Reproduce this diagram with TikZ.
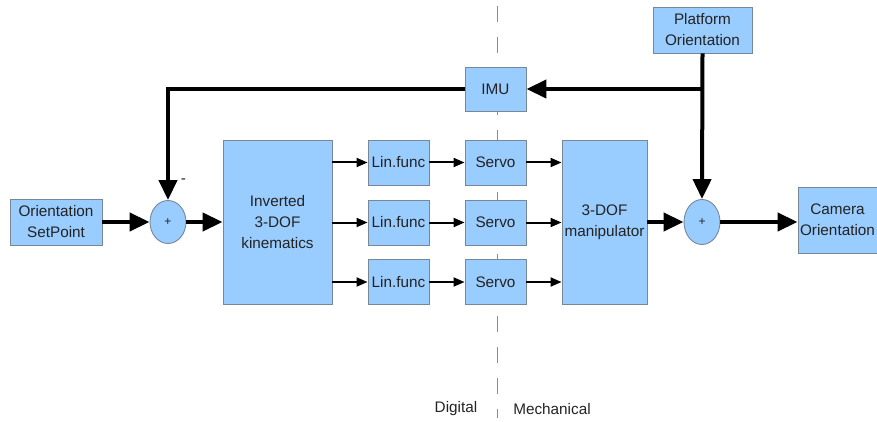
\documentclass[tikz,border=0pt]{standalone}
\usepackage{fontspec}
\setmainfont{Liberation Sans}
\usetikzlibrary{arrows.meta,shapes.geometric}
\definecolor{blockfill}{RGB}{153,204,255}
\definecolor{blockline}{RGB}{120,135,150}
\definecolor{splitline}{RGB}{140,140,140}
\definecolor{ink}{RGB}{35,35,35}
\tikzset{
  block/.style={draw=blockline, fill=blockfill, line width=0.9pt, inner sep=0pt,
    align=center, text=ink, font={\fontsize{15.3}{21}\selectfont}},
  summer/.style={ellipse, draw=blockline, fill=blockfill, line width=0.9pt,
    inner sep=0pt, text=ink, font={\fontsize{12}{14}\selectfont}},
  bigflow/.style={line width=4pt, -{Triangle[length=20pt,width=18pt]}},
  smallflow/.style={line width=2pt, -{Triangle[length=11pt,width=9pt]}},
  lbl/.style={font={\fontsize{15.3}{21}\selectfont}, text=ink, inner sep=0pt},
}
\begin{document}
\begin{tikzpicture}[x=1pt,y=-1pt]
\useasboundingbox (0,0) rectangle (877,422);

% boundary between the digital and the mechanical part
\draw[splitline, line width=1pt, dash pattern=on 16pt off 15pt] (497,6) -- (497,418);

% blocks
\node[block, minimum width=92pt, minimum height=46pt] (sp) at (56,222) {Orientation\\SetPoint};
\node[summer, minimum width=36pt, minimum height=43pt] (s1) at (168,222) {+};
\node[block, minimum width=109pt, minimum height=164pt] (kin) at (277.5,222) {Inverted\\3-DOF\\kinematics};
\node[block, minimum width=61pt, minimum height=45pt] (lf1) at (398.5,162.5) {Lin.func};
\node[block, minimum width=61pt, minimum height=45pt] (lf2) at (398.5,222.5) {Lin.func};
\node[block, minimum width=61pt, minimum height=45pt] (lf3) at (398.5,282) {Lin.func};
\node[block, minimum width=61pt, minimum height=45pt] (sv1) at (495.5,162.5) {Servo};
\node[block, minimum width=61pt, minimum height=45pt] (sv2) at (495.5,222.5) {Servo};
\node[block, minimum width=61pt, minimum height=45pt] (sv3) at (495.5,282) {Servo};
\node[block, minimum width=85pt, minimum height=164pt] (man) at (604.5,222) {3-DOF\\manipulator};
\node[block, minimum width=61pt, minimum height=44pt] (imu) at (495.5,89) {IMU};
\node[block, minimum width=99pt, minimum height=46pt] (plat) at (702.5,30) {Platform\\Orientation};
\node[summer, minimum width=36pt, minimum height=45pt] (s2) at (702,222) {+};
\node[block, minimum width=79pt, minimum height=66pt] (cam) at (837.5,220) {Camera\\Orientation};

% labels
\node[lbl] (minus) at (183.5,181) {-};
\node[lbl] (dig) at (456,409) {Digital};
\node[lbl] (mech) at (552,409) {Mechanical};

% main signal path
\draw[bigflow] (sp.east) -- (s1.west);
\draw[bigflow] (s1.east) -- (s1.east -| kin.west);
\draw[smallflow] (lf1.west -| kin.east) -- (lf1.west);
\draw[smallflow] (lf2.west -| kin.east) -- (lf2.west);
\draw[smallflow] (lf3.west -| kin.east) -- (lf3.west);
\draw[smallflow] (lf1.east) -- (sv1.west);
\draw[smallflow] (lf2.east) -- (sv2.west);
\draw[smallflow] (lf3.east) -- (sv3.west);
\draw[smallflow] (sv1.east) -- (sv1.east -| man.west);
\draw[smallflow] (sv2.east) -- (sv2.east -| man.west);
\draw[smallflow] (sv3.east) -- (sv3.east -| man.west);
\draw[bigflow] (man.east |- s2.west) -- (s2.west);
\draw[bigflow] (s2.east) -- (s2.east -| cam.west);

% platform disturbance and IMU feedback
\coordinate (branch) at (plat.south |- imu.east);
\draw[bigflow] (plat.south) -- (s2.north);
\draw[bigflow] (branch) -- (imu.east);
\draw[bigflow] (imu.west) -| (s1.north);
\end{tikzpicture}
\end{document}
